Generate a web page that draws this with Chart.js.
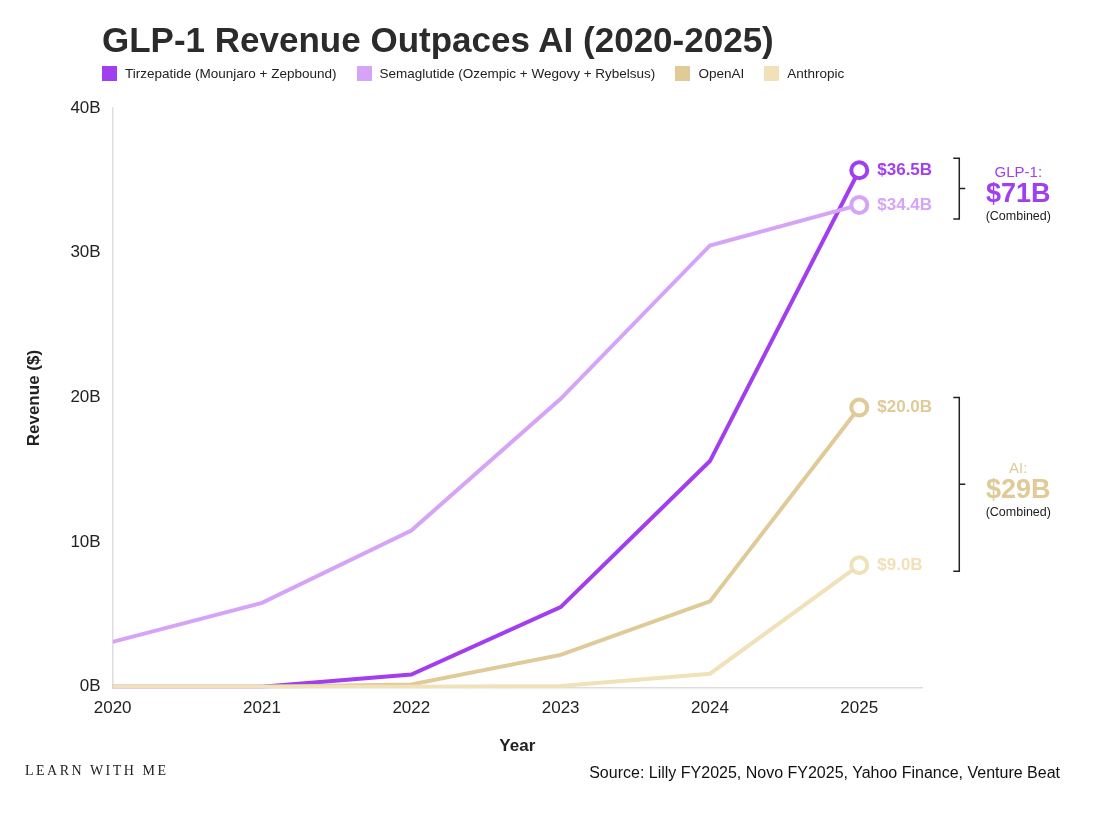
<!DOCTYPE html>
<html>
<head>
<meta charset="utf-8">
<script src="https://cdn.jsdelivr.net/npm/chart.js@4/dist/chart.umd.min.js"></script>
<style>
  body { margin: 0; background: #fff; font-family: "Liberation Sans", Arial, sans-serif; }
  #wrap { position: relative; width: 1100px; height: 817px; }
  #title { position: absolute; left: 102px; top: 20px; font-size: 35px; font-weight: bold; color: #2b2b2b; }
  #legend { position: absolute; left: 102px; top: 66px; font-size: 13.5px; color: #222; display: flex; gap: 20px; }
  #legend span.sw { display: inline-block; width: 15px; height: 15px; margin-right: 8px; vertical-align: -3px; }
  #brand { position: absolute; left: 25px; top: 763px; font-family: "Liberation Serif", serif; font-size: 14px; letter-spacing: 2.5px; color: #222; }
  #source { position: absolute; right: 40px; top: 764px; font-size: 16px; color: #111; }
  canvas { position: absolute; left: 0; top: 0; }
</style>
</head>
<body>
<div id="wrap">
  <canvas id="c" width="1100" height="817"></canvas>
  <div id="title">GLP-1 Revenue Outpaces AI (2020-2025)</div>
  <div id="legend"></div>
  <div id="brand">LEARN WITH ME</div>
  <div id="source">Source: Lilly FY2025, Novo FY2025, Yahoo Finance, Venture Beat</div>
</div>
<script>
const years = [2020, 2021, 2022, 2023, 2024, 2025];
const tirzepatide = [0, 0, 0.85, 5.5, 15.6, 35.7];
const semaglutide = [3.1, 5.8, 10.8, 19.9, 30.5, 33.3];
const openai = [0, 0, 0.15, 2.2, 5.9, 19.3];
const anthropic = [0, 0, 0, 0.05, 0.9, 8.4];
const seriesNames = ['Tirzepatide (Mounjaro + Zepbound)', 'Semaglutide (Ozempic + Wegovy + Rybelsus)', 'OpenAI', 'Anthropic'];
const seriesColors = ['#a13ef0', '#d6a4f7', '#dfca98', '#f1e1b9'];
const endLabels = ['$36.5B', '$34.4B', '$20.0B', '$9.0B'];
const yTicks = [0, 10, 20, 30, 40];

const legendEl = document.getElementById('legend');
seriesNames.forEach((n, i) => {
  const d = document.createElement('div');
  d.innerHTML = `<span class="sw" style="background:${seriesColors[i]}"></span>${n}`;
  legendEl.appendChild(d);
});

const allSeries = [tirzepatide, semaglutide, openai, anthropic];
const datasets = allSeries.map((s, i) => ({
  label: seriesNames[i],
  data: s.map((v, k) => ({ x: years[k], y: v })),
  borderColor: seriesColors[i],
  backgroundColor: '#fff',
  borderWidth: 4,
  pointRadius: s.map((v, k) => k === s.length - 1 ? 8 : 0),
  pointBorderWidth: 4,
  pointBorderColor: seriesColors[i],
  pointBackgroundColor: '#fff',
  tension: 0,
  order: 4 - i
}));

// texte en fin de ligne + accolades
const annot = {
  id: 'annot',
  afterDatasetsDraw(chart) {
    const ctx = chart.ctx, xs = chart.scales.x, ys = chart.scales.y;
    const x25 = xs.getPixelForValue(2025);
    ctx.save();
    ctx.textBaseline = 'middle';
    ctx.font = 'bold 17px "Liberation Sans", Arial';
    allSeries.forEach((s, i) => {
      ctx.fillStyle = seriesColors[i];
      ctx.fillText(endLabels[i], x25 + 18, ys.getPixelForValue(s[s.length - 1]));
    });
    function bracket(top, bot) {
      const bx = x25 + 100, mid = (top + bot) / 2;
      ctx.strokeStyle = '#222'; ctx.lineWidth = 1.5;
      ctx.beginPath();
      ctx.moveTo(bx - 6, top); ctx.lineTo(bx, top); ctx.lineTo(bx, bot); ctx.lineTo(bx - 6, bot);
      ctx.moveTo(bx, mid); ctx.lineTo(bx + 6, mid);
      ctx.stroke();
      return mid;
    }
    function block(mid, lbl, val, col) {
      const cx = x25 + 159;
      ctx.textAlign = 'center';
      ctx.fillStyle = col; ctx.font = '15px "Liberation Sans", Arial';
      ctx.fillText(lbl, cx, mid - 16);
      ctx.font = 'bold 27px "Liberation Sans", Arial';
      ctx.fillText(val, cx, mid + 6);
      ctx.fillStyle = '#222'; ctx.font = '12.5px "Liberation Sans", Arial';
      ctx.fillText('(Combined)', cx, mid + 28);
      ctx.textAlign = 'left';
    }
    const m1 = bracket(ys.getPixelForValue(tirzepatide[5]) - 12, ys.getPixelForValue(semaglutide[5]) + 14);
    block(m1, 'GLP-1:', '$71B', '#a13ef0');
    const m2 = bracket(ys.getPixelForValue(openai[5]) - 10, ys.getPixelForValue(anthropic[5]) + 6);
    block(m2, 'AI:', '$29B', '#dfca98');
    ctx.restore();
  }
};

new Chart(document.getElementById('c'), {
  type: 'line',
  data: { datasets },
  plugins: [annot],
  options: {
    responsive: false,
    animation: false,
    layout: { padding: { top: 108, left: 20, right: 178, bottom: 56 } },
    plugins: { legend: { display: false }, tooltip: { enabled: false } },
    scales: {
      x: {
        type: 'linear', min: 2020, max: 2025.42,
        afterBuildTicks: a => { a.ticks = years.map(v => ({ value: v })); },
        ticks: { callback: v => String(v), color: '#222', font: { size: 17, family: 'Liberation Sans' }, padding: 10 },
        grid: { display: false, drawTicks: false },
        border: { color: '#ddd', width: 1.5 },
        title: { display: true, text: 'Year', color: '#222', font: { size: 17, weight: 'bold', family: 'Liberation Sans' }, padding: { top: 8 } }
      },
      y: {
        min: -0.1, max: 40,
        afterBuildTicks: a => { a.ticks = yTicks.map(v => ({ value: v })); },
        ticks: { callback: v => v + 'B', color: '#222', font: { size: 17, family: 'Liberation Sans' }, padding: 12 },
        grid: { display: false, drawTicks: false },
        border: { color: '#ddd', width: 1.5 },
        title: { display: true, text: 'Revenue ($)', color: '#222', font: { size: 17, weight: 'bold', family: 'Liberation Sans' }, padding: { bottom: 14 } }
      }
    }
  }
});
</script>
</body>
</html>
